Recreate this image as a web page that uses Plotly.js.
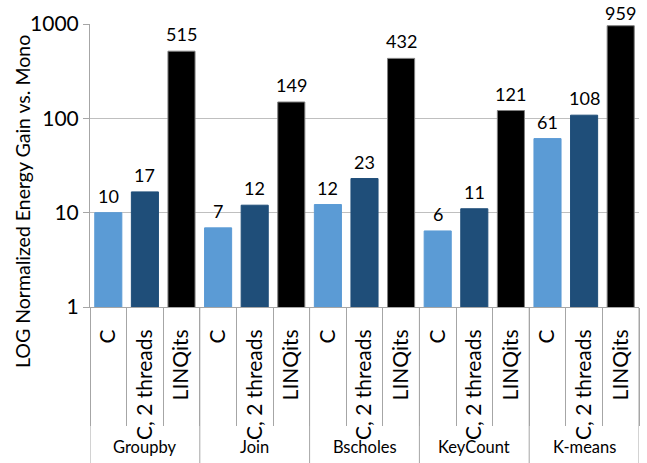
<!DOCTYPE html>
<html>
<head>
<meta charset="utf-8">
<script src="https://cdn.plot.ly/plotly-3.0.1.min.js"></script>
<style>html,body{margin:0;padding:0;background:#fff}#chart{width:647px;height:463px}</style>
</head>
<body>
<div id="chart"></div>
<script>
const groups = ["Groupby", "Join", "Bscholes", "KeyCount", "K-means"];
const seriesNames = ["C", "C, 2 threads", "LINQits"];
const valuesC = [10, 6.9, 12.2, 6.4, 61];
const valuesC2 = [16.6, 12, 23, 11, 108];
const valuesLINQits = [515, 149, 432, 121, 959];
const colors = ["#5B9BD5", "#1F4E79", "#000000"];
const tickVals = [1, 10, 100, 1000];
const tickText = ["1", "10", "100", "1000"];

const allSeries = [valuesC, valuesC2, valuesLINQits];
const nS = seriesNames.length;
const xPos = [], xLabels = [], yVals = [], barColors = [], lineColors = [];
groups.forEach((g, gi) => {
  seriesNames.forEach((s, si) => {
    xPos.push(gi * nS + si);
    xLabels.push(s);
    yVals.push(allSeries[si][gi]);
    barColors.push(colors[si]);
    lineColors.push(si === 2 ? "#7f7f7f" : colors[si]);
  });
});
const nBars = xPos.length;
const innerBounds = [];
for (let i = 0; i <= nBars; i++) innerBounds.push(i - 0.5);

const font = "Lato, 'Open Sans', sans-serif";
const axisGray = "#a6a6a6";
const plotTop = 24, plotBottom = 307, plotH = plotBottom - plotTop;
const yRange = [0, 3];
const groupLabelY = -(447 - plotBottom) / plotH;
const fullBottom = -(463 - plotBottom) / plotH;

const data = [{
  type: "bar",
  x: xPos,
  y: yVals,
  width: 0.74,
  marker: {color: barColors, line: {color: lineColors, width: 1}},
  hoverinfo: "none"
}];

const shapes = [];
for (let gi = 0; gi <= groups.length; gi++) {
  const bx = gi * nS - 0.5;
  shapes.push({type: "line", xref: "x", yref: "paper", x0: bx, x1: bx, y0: 0, y1: fullBottom,
    line: {color: axisGray, width: 1}});
}

const annotations = [{
  text: "LOG Normalized Energy Gain vs. Mono",
  xref: "paper", yref: "paper", x: 0, y: (plotBottom - 202) / plotH,
  xshift: -68, textangle: -90, showarrow: false,
  font: {family: font, size: 19.5, color: "#000"},
  xanchor: "center", yanchor: "middle"
}];
groups.forEach((g, gi) => {
  annotations.push({
    text: g, xref: "x", yref: "paper", x: gi * nS + (nS - 1) / 2, y: groupLabelY,
    showarrow: false, xanchor: "center", yanchor: "middle",
    font: {family: font, size: 16.5, color: "#000"}
  });
});
const pxPerUnit = plotH / (yRange[1] - yRange[0]);
xPos.forEach((xp, i) => {
  const ly = Math.log10(yVals[i]);
  const barTopPx = plotTop + (yRange[1] - ly) * pxPerUnit;
  const centerPx = Math.max(13, barTopPx - 17);
  annotations.push({
    text: String(Math.round(yVals[i])), xref: "x", yref: "y",
    x: xp, y: ly, yshift: barTopPx - centerPx,
    showarrow: false, xanchor: "center", yanchor: "middle",
    font: {family: font, size: 18, color: "#000"}
  });
});

const layout = {
  width: 647, height: 463,
  margin: {l: 90, r: 8, t: plotTop, b: 463 - plotBottom},
  paper_bgcolor: "#fff", plot_bgcolor: "#fff",
  showlegend: false,
  font: {family: font, size: 16, color: "#000"},
  xaxis: {
    range: [-0.5, nBars - 0.5],
    tickmode: "array", tickvals: xPos, ticktext: xLabels,
    ticks: "", tickangle: -90,
    ticklabelstandoff: 13,
    minor: {tickmode: "array", tickvals: innerBounds, ticks: "outside", ticklen: 118, tickcolor: axisGray, tickwidth: 1, showgrid: false},
    showline: true, linecolor: axisGray, linewidth: 1,
    tickfont: {family: font, size: 21, color: "#000"},
    showgrid: false, zeroline: false
  },
  yaxis: {
    type: "log", range: yRange,
    tickvals: tickVals, ticktext: tickText,
    showgrid: true, gridcolor: "#bfbfbf", gridwidth: 1,
    showline: true, linecolor: axisGray, linewidth: 1,
    ticks: "outside", ticklen: 6, tickcolor: axisGray,
    tickfont: {family: font, size: 21, color: "#000"},
    zeroline: false
  },
  shapes: shapes,
  annotations: annotations
};

Plotly.newPlot("chart", data, layout, {displayModeBar: false, staticPlot: true});
</script>
</body>
</html>
